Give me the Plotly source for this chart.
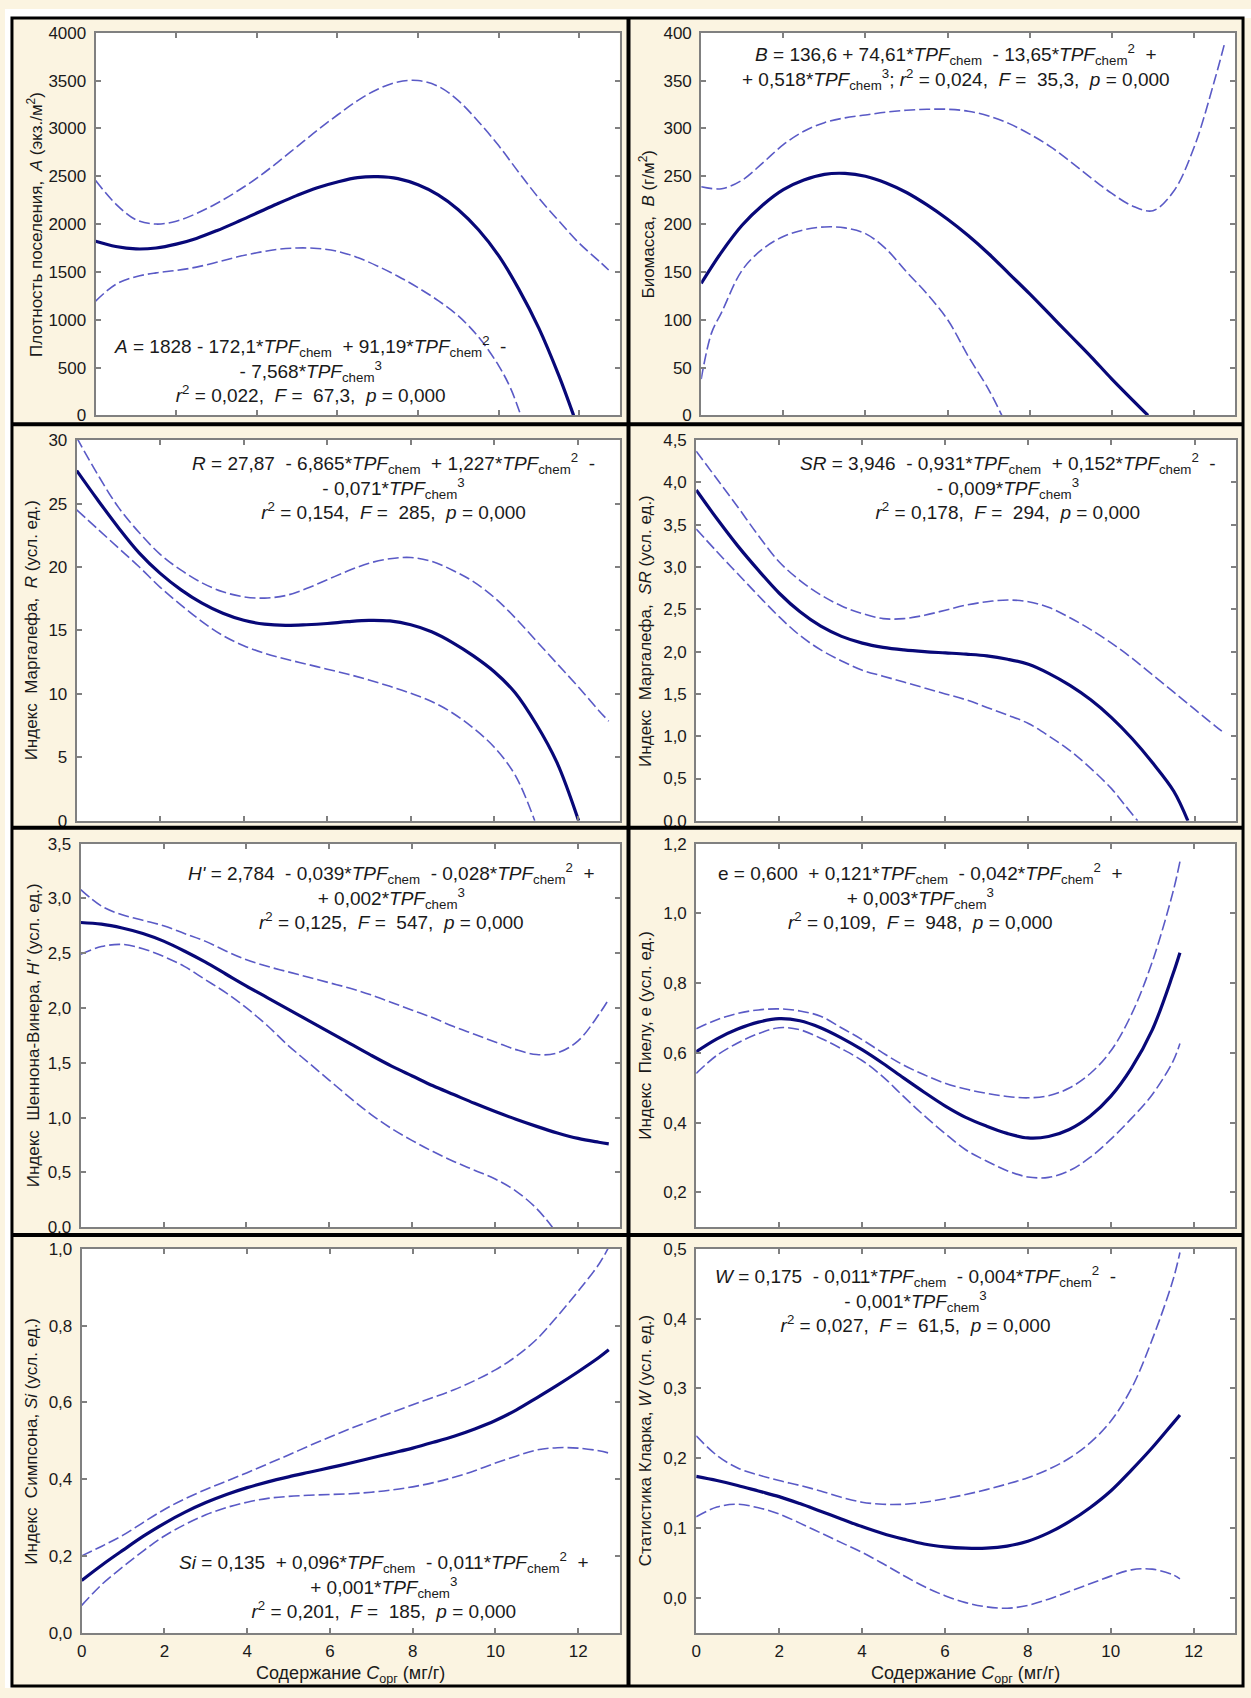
import plotly.graph_objects as go

FIG_W, FIG_H = 1251, 1698

X_TICKS = [0, 2, 4, 6, 8, 10, 12]
# Corg values (mg/g) at which the curves are sampled
HALF = [0, 0.5, 1, 1.5, 2, 2.5, 3, 3.5, 4, 4.5, 5, 5.5, 6, 6.5, 7, 7.5, 8, 8.5, 9, 9.5,
        10, 10.5, 11, 11.5, 12, 12.5]

# ---------------- Population density, A (ind./m2) ----------------
A_fit_x = HALF[:24] + [11.86]
A_fit_y = [1820, 1765, 1740, 1750, 1790, 1850, 1930, 2020, 2115, 2210, 2300, 2380, 2440,
           2485, 2495, 2475, 2410, 2305, 2150, 1940, 1670, 1320, 910, 410, 0]
A_hi_x = HALF + [12.73]
A_hi_y = [2455, 2210, 2045, 2000, 2030, 2110, 2215, 2340, 2480, 2640, 2810, 2980, 3140,
          3290, 3410, 3485, 3500, 3440, 3290, 3070, 2820, 2540, 2270, 2030, 1800, 1610, 1520]
A_lo_x = HALF[:21] + [10.3, 10.55]
A_lo_y = [1195, 1370, 1450, 1490, 1515, 1550, 1600, 1655, 1700, 1735, 1750, 1745, 1715,
          1650, 1560, 1455, 1335, 1200, 1040, 820, 520, 280, 0]
A_yticks = [0, 500, 1000, 1500, 2000, 2500, 3000, 3500, 4000]

# ---------------- Biomass, B (g/m2) ----------------
B_fit_x = HALF[:21] + [10.88]
B_fit_y = [138, 171, 199, 220, 236, 246, 252, 253, 250, 243, 233, 220, 205, 188, 169, 148,
           127, 105, 83, 61, 38, 0]
B_hi_x = HALF + [12.74]
B_hi_y = [239, 237, 246, 264, 283, 297, 306, 311, 314, 317, 319, 320, 320, 318, 313, 305,
          294, 281, 265, 248, 232, 219, 214, 234, 280, 350, 388]
B_lo_x = [0, 0.25] + HALF[1:15] + [7.32]
B_lo_y = [38, 86, 108, 152, 174, 187, 194, 197, 196, 190, 174, 150, 127, 100, 62, 27, 0]
B_yticks = [0, 50, 100, 150, 200, 250, 300, 350, 400]

# ---------------- Margalef index, R ----------------
R_fit_x = HALF[:24] + [12.02]
R_fit_y = [27.6, 25.3, 23.1, 21.1, 19.5, 18.2, 17.15, 16.35, 15.8, 15.5, 15.4, 15.45, 15.55,
           15.7, 15.8, 15.75, 15.45, 14.9, 14.05, 13.0, 11.75, 10.1, 7.65, 4.6, 0]
R_hi_x = HALF + [12.74]
R_hi_y = [30.2, 27.3, 24.7, 22.7, 21.0, 19.75, 18.75, 18.05, 17.65, 17.55, 17.75, 18.3, 19.0,
          19.7, 20.3, 20.65, 20.75, 20.45, 19.75, 18.85, 17.6, 16.0, 14.2, 12.4, 10.6, 8.7, 7.85]
R_lo_x = HALF[:22] + [10.97]
R_lo_y = [24.5, 23.0, 21.5, 20.0, 18.4, 17.0, 15.7, 14.6, 13.8, 13.2, 12.75, 12.35, 11.95,
          11.55, 11.1, 10.6, 10.05, 9.4, 8.5, 7.3, 5.8, 3.6, 0]
R_yticks = [0, 5, 10, 15, 20, 25, 30]

# ---------------- Margalef index, SR ----------------
SR_fit_x = HALF[:24] + [11.84]
SR_fit_y = [3.91, 3.57, 3.25, 2.96, 2.69, 2.47, 2.30, 2.18, 2.10, 2.05, 2.02, 2.00, 1.985,
            1.97, 1.95, 1.91, 1.85, 1.74, 1.60, 1.43, 1.22, 0.97, 0.68, 0.35, 0]
SR_hi_x = HALF + [12.71]
SR_hi_y = [4.37, 4.04, 3.71, 3.37, 3.06, 2.84, 2.67, 2.54, 2.45, 2.39, 2.39, 2.43, 2.49,
           2.55, 2.59, 2.61, 2.59, 2.52, 2.40, 2.26, 2.10, 1.92, 1.72, 1.52, 1.32, 1.12, 1.04]
SR_lo_x = HALF[:21] + [10.3, 10.63]
SR_lo_y = [3.45, 3.18, 2.92, 2.66, 2.41, 2.19, 2.02, 1.89, 1.78, 1.71, 1.64, 1.57, 1.50,
           1.43, 1.34, 1.25, 1.15, 1.0, 0.83, 0.62, 0.38, 0.2, 0]
SR_yticks = [0, 0.5, 1, 1.5, 2, 2.5, 3, 3.5, 4, 4.5]

# ---------------- Shannon-Wiener index, H' ----------------
H_fit_x = HALF + [12.74]
H_fit_y = [2.78, 2.765, 2.73, 2.68, 2.61, 2.52, 2.42, 2.31, 2.20, 2.095, 1.99, 1.885, 1.78,
           1.675, 1.57, 1.47, 1.38, 1.29, 1.21, 1.13, 1.055, 0.985, 0.92, 0.86, 0.81, 0.775, 0.76]
H_hi_x = HALF + [12.74]
H_hi_y = [3.08, 2.93, 2.85, 2.80, 2.75, 2.68, 2.61, 2.52, 2.44, 2.38, 2.33, 2.28, 2.23,
          2.18, 2.12, 2.05, 1.98, 1.91, 1.83, 1.76, 1.69, 1.62, 1.575, 1.59, 1.70, 1.94, 2.08]
H_lo_x = HALF[:23] + [11.38]
H_lo_y = [2.49, 2.56, 2.58, 2.54, 2.47, 2.38, 2.26, 2.14, 2.00, 1.84, 1.66, 1.50, 1.34,
          1.18, 1.03, 0.90, 0.79, 0.69, 0.60, 0.52, 0.44, 0.33, 0.17, 0]
H_yticks = [0, 0.5, 1, 1.5, 2, 2.5, 3, 3.5]

# ---------------- Pielou index, e ----------------
E_fit_x = HALF[:24] + [11.67]
E_fit_y = [0.603, 0.64, 0.668, 0.688, 0.698, 0.692, 0.672, 0.643, 0.609, 0.57, 0.528, 0.487,
           0.448, 0.415, 0.39, 0.369, 0.356, 0.36, 0.38, 0.418, 0.475, 0.556, 0.665, 0.825, 0.887]
E_hi_x = HALF[:24] + [11.67]
E_hi_y = [0.669, 0.695, 0.713, 0.723, 0.726, 0.720, 0.705, 0.672, 0.638, 0.600, 0.565, 0.537,
          0.513, 0.496, 0.484, 0.475, 0.471, 0.477, 0.499, 0.54, 0.605, 0.71, 0.86, 1.06, 1.148]
E_lo_x = HALF[:24] + [11.67]
E_lo_y = [0.541, 0.593, 0.628, 0.655, 0.672, 0.666, 0.642, 0.612, 0.578, 0.532, 0.475, 0.42,
          0.369, 0.322, 0.29, 0.262, 0.244, 0.243, 0.262, 0.3, 0.352, 0.412, 0.48, 0.575, 0.627]
E_yticks = [0.2, 0.4, 0.6, 0.8, 1.0, 1.2]

# ---------------- Simpson index, Si ----------------
SI_fit_x = HALF + [12.74]
SI_fit_y = [0.136, 0.177, 0.215, 0.252, 0.285, 0.314, 0.339, 0.360, 0.378, 0.393, 0.406,
            0.418, 0.430, 0.442, 0.455, 0.468, 0.481, 0.496, 0.512, 0.531, 0.553, 0.58,
            0.612, 0.645, 0.68, 0.717, 0.737]
SI_hi_x = HALF + [12.74]
SI_hi_y = [0.20, 0.226, 0.254, 0.288, 0.321, 0.349, 0.373, 0.395, 0.417, 0.44, 0.463, 0.487,
           0.51, 0.532, 0.553, 0.574, 0.594, 0.613, 0.633, 0.657, 0.685, 0.72, 0.765, 0.825,
           0.89, 0.96, 1.005]
SI_lo_x = HALF + [12.74]
SI_lo_y = [0.071, 0.127, 0.172, 0.214, 0.252, 0.282, 0.307, 0.326, 0.34, 0.35, 0.355, 0.358,
           0.36, 0.362, 0.366, 0.372, 0.38, 0.391, 0.405, 0.422, 0.442, 0.46, 0.476, 0.482,
           0.481, 0.474, 0.468]
SI_yticks = [0, 0.2, 0.4, 0.6, 0.8, 1.0]

# ---------------- Clarke statistic, W ----------------
W_fit_x = HALF[:24] + [11.67]
W_fit_y = [0.174, 0.168, 0.161, 0.153, 0.145, 0.135, 0.124, 0.113, 0.102, 0.092, 0.084, 0.077,
           0.073, 0.071, 0.071, 0.074, 0.081, 0.093, 0.109, 0.129, 0.153, 0.183, 0.215, 0.25, 0.262]
W_hi_x = HALF[:24] + [11.67]
W_hi_y = [0.232, 0.204, 0.186, 0.176, 0.168, 0.161, 0.153, 0.144, 0.137, 0.134, 0.134, 0.137,
          0.142, 0.148, 0.155, 0.163, 0.172, 0.184, 0.20, 0.222, 0.253, 0.30, 0.37, 0.455, 0.495]
W_lo_x = HALF[:24] + [11.67]
W_lo_y = [0.116, 0.13, 0.134, 0.129, 0.12, 0.107, 0.093, 0.079, 0.065, 0.049, 0.032, 0.016,
          0.003, -0.007, -0.013, -0.015, -0.011, -0.002, 0.009, 0.02, 0.031, 0.04, 0.041, 0.033,
          0.027]
W_yticks = [0, 0.1, 0.2, 0.3, 0.4, 0.5]

TPF = "<i>TPF</i><sub>chem</sub>"
SP = "&nbsp;"


def stats(r2, f):
    return ("<i>r</i><sup>2</sup> = " + r2 + "," + SP + " <i>F</i> =" + SP + " " + f + ","
            + SP + " <i>p</i> = 0,000")


# Each panel: curves, axis range, tick format, plot box in pixels (left, top, right, bottom),
# y-axis title with its x centre, regression equation with its centre.
panels = [
    dict(fit=(A_fit_x, A_fit_y), hi=(A_hi_x, A_hi_y), lo=(A_lo_x, A_lo_y),
         yrange=[0, 4000], yticks=A_yticks, fmt="d", box=(91, 24, 617, 411),
         ytitle="Плотность поселения," + SP + " <i>A</i> (экз./м<sup>2</sup>)", ytitle_x=30,
         eq=("<i>A</i> = 1828 - 172,1*" + TPF + SP + " + 91,19*" + TPF + "<sup>2</sup>" + SP + " -<br>"
             "- 7,568*" + TPF + "<sup>3</sup><br>" + stats("0,022", "67,3"), 306, 365)),
    dict(fit=(B_fit_x, B_fit_y), hi=(B_hi_x, B_hi_y), lo=(B_lo_x, B_lo_y),
         yrange=[0, 400], yticks=B_yticks, fmt="d", box=(699, 24, 1235, 411),
         ytitle="Биомасса," + SP + " <i>B</i> (г/м<sup>2</sup>)", ytitle_x=645,
         eq=("<i>B</i> = 136,6 + 74,61*" + TPF + SP + " - 13,65*" + TPF + "<sup>2</sup>" + SP + " +<br>"
             "+ 0,518*" + TPF + "<sup>3</sup>; " + stats("0,024", "35,3"), 955, 59)),
    dict(fit=(R_fit_x, R_fit_y), hi=(R_hi_x, R_hi_y), lo=(R_lo_x, R_lo_y),
         yrange=[0, 30], yticks=R_yticks, fmt="d", box=(72, 436, 617, 821),
         ytitle="Индекс" + SP + " Маргалефа," + SP + " <i>R</i> (усл. ед.)", ytitle_x=27,
         eq=("<i>R</i> = 27,87" + SP + " - 6,865*" + TPF + SP + " + 1,227*" + TPF + "<sup>2</sup>" + SP + " -<br>"
             "- 0,071*" + TPF + "<sup>3</sup><br>" + stats("0,154", "285"), 390, 483)),
    dict(fit=(SR_fit_x, SR_fit_y), hi=(SR_hi_x, SR_hi_y), lo=(SR_lo_x, SR_lo_y),
         yrange=[0, 4.5], yticks=SR_yticks, fmt=".1f", box=(694, 436, 1236, 821),
         ytitle="Индекс" + SP + " Маргалефа," + SP + " <i>SR</i> (усл. ед.)", ytitle_x=643,
         eq=("<i>SR</i> = 3,946" + SP + " - 0,931*" + TPF + SP + " + 0,152*" + TPF + "<sup>2</sup>" + SP + " -<br>"
             "- 0,009*" + TPF + "<sup>3</sup><br>" + stats("0,178", "294"), 1007, 483)),
    dict(fit=(H_fit_x, H_fit_y), hi=(H_hi_x, H_hi_y), lo=(H_lo_x, H_lo_y),
         yrange=[0, 3.5], yticks=H_yticks, fmt=".1f", box=(76, 844, 617, 1232),
         ytitle="Индекс" + SP + " Шеннона-Винера, <i>H'</i> (усл. ед.)", ytitle_x=28,
         eq=("<i>H'</i> = 2,784" + SP + " - 0,039*" + TPF + SP + " - 0,028*" + TPF + "<sup>2</sup>" + SP + " +<br>"
             "+ 0,002*" + TPF + "<sup>3</sup><br>" + stats("0,125", "547"), 388, 898)),
    dict(fit=(E_fit_x, E_fit_y), hi=(E_hi_x, E_hi_y), lo=(E_lo_x, E_lo_y),
         yrange=[0.1, 1.2], yticks=E_yticks, fmt=".1f", box=(694, 844, 1235, 1232),
         ytitle="Индекс" + SP + " Пиелу, e (усл. ед.)", ytitle_x=643,
         eq=("e = 0,600" + SP + " + 0,121*" + TPF + SP + " - 0,042*" + TPF + "<sup>2</sup>" + SP + " +<br>"
             "+ 0,003*" + TPF + "<sup>3</sup><br>" + stats("0,109", "948"), 919, 898)),
    dict(fit=(SI_fit_x, SI_fit_y), hi=(SI_hi_x, SI_hi_y), lo=(SI_lo_x, SI_lo_y),
         yrange=[0, 1.0], yticks=SI_yticks, fmt=".1f", box=(77, 1254, 617, 1642),
         ytitle="Индекс" + SP + " Симпсона, <i>Si</i> (усл. ед.)", ytitle_x=27,
         eq=("<i>Si</i> = 0,135" + SP + " + 0,096*" + TPF + SP + " - 0,011*" + TPF + "<sup>2</sup>" + SP + " +<br>"
             "+ 0,001*" + TPF + "<sup>3</sup><br>" + stats("0,201", "185"), 381, 1594)),
    dict(fit=(W_fit_x, W_fit_y), hi=(W_hi_x, W_hi_y), lo=(W_lo_x, W_lo_y),
         yrange=[-0.05, 0.5], yticks=W_yticks, fmt=".1f", box=(694, 1254, 1235, 1642),
         ytitle="Статистика Кларка, <i>W</i> (усл. ед.)", ytitle_x=643,
         eq=("<i>W</i> = 0,175" + SP + " - 0,011*" + TPF + SP + " - 0,004*" + TPF + "<sup>2</sup>" + SP + " -<br>"
             "- 0,001*" + TPF + "<sup>3</sup><br>" + stats("0,027", "61,5"), 914, 1305)),
]

FONT = "Liberation Sans, Arial, sans-serif"
TEXT_COLOR = "#1a1a1a"
FRAME = "#808080"
FIT_COLOR = "#080878"
CI_COLOR = "#5a5ac6"
CREAM = "#fbf4e1"


def fx(px):
    return px / FIG_W


def fy(py):
    return 1 - py / FIG_H


fig = go.Figure()
layout = dict(
    width=FIG_W, height=FIG_H,
    margin=dict(l=0, r=0, t=0, b=0),
    paper_bgcolor=CREAM,
    plot_bgcolor="white",
    showlegend=False,
    separators=", ",
    font=dict(family=FONT, color=TEXT_COLOR),
)

# white page margin outside the ruled cells
shapes = [
    dict(type="rect", xref="paper", yref="paper", x0=0, x1=fx(7), y0=0, y1=1,
         fillcolor="white", line=dict(width=0), layer="below"),
    dict(type="rect", xref="paper", yref="paper", x0=0, x1=1, y0=fy(9), y1=1,
         fillcolor="white", line=dict(width=0), layer="below"),
]

annotations = []
for i, p in enumerate(panels):
    n = "" if i == 0 else str(i + 1)
    xa, ya = "x" + n, "y" + n
    left, top, right, bottom = p["box"]
    bottom_row = i >= 6

    # white plotting area of the cell
    shapes.append(dict(type="rect", xref="paper", yref="paper",
                       x0=fx(left), x1=fx(right), y0=fy(bottom), y1=fy(top),
                       fillcolor="white", line=dict(width=0), layer="below"))

    for key, width, dash, color in (("hi", 1.6, "11px,4px", CI_COLOR),
                                     ("lo", 1.6, "11px,4px", CI_COLOR),
                                     ("fit", 3.2, "solid", FIT_COLOR)):
        xs, ys = p[key]
        fig.add_trace(go.Scatter(
            x=xs, y=ys, mode="lines", xaxis=xa, yaxis=ya,
            line=dict(color=color, width=width, dash=dash, shape="spline", smoothing=1.0),
            hoverinfo="skip",
        ))

    axis_common = dict(
        showline=True, linecolor=FRAME, linewidth=2, mirror="ticks",
        ticks="inside", ticklen=5, tickwidth=1.5, tickcolor=FRAME,
        showgrid=False, zeroline=False, fixedrange=True,
        tickfont=dict(family=FONT, size=17, color=TEXT_COLOR),
    )
    layout["xaxis" + n] = dict(
        axis_common, domain=[fx(left), fx(right)], range=[0, 13],
        tickvals=X_TICKS, tickformat="d", showticklabels=bottom_row,
        ticklabelstandoff=2, anchor=ya,
    )
    layout["yaxis" + n] = dict(
        axis_common, domain=[fy(bottom), fy(top)], range=p["yrange"],
        tickvals=p["yticks"], tickformat=p["fmt"], ticklabelstandoff=4,
        anchor=xa,
    )

    annotations.append(dict(
        text=p["ytitle"], textangle=-90, xref="paper", yref="paper",
        x=fx(p["ytitle_x"]), y=fy((top + bottom) / 2),
        xanchor="center", yanchor="middle", showarrow=False,
        font=dict(family=FONT, size=17, color=TEXT_COLOR),
    ))
    text, cx, cy = p["eq"]
    annotations.append(dict(
        text=text, xref="paper", yref="paper", x=fx(cx), y=fy(cy),
        xanchor="center", yanchor="middle", align="center", showarrow=False,
        font=dict(family=FONT, size=19, color=TEXT_COLOR),
    ))
    if bottom_row:
        annotations.append(dict(
            text="Содержание <i>C</i><sub>орг</sub> (мг/г)", xref="paper", yref="paper",
            x=fx((left + right) / 2), y=fy(1684), xanchor="center", yanchor="middle",
            showarrow=False, font=dict(family=FONT, size=18, color=TEXT_COLOR),
        ))

# black ruling of the cells
shapes += [
    dict(type="rect", xref="paper", yref="paper", x0=fx(7), x1=fx(1243), y0=fy(1696), y1=fy(9),
         fillcolor="rgba(0,0,0,0)", line=dict(color="black", width=3), layer="above"),
    dict(type="line", xref="paper", yref="paper", x0=fx(626), x1=fx(626), y0=fy(1696), y1=fy(9),
         line=dict(color="black", width=4)),
]
for yline in (420, 828, 1240):
    shapes.append(dict(type="line", xref="paper", yref="paper", x0=fx(7), x1=fx(1243),
                       y0=fy(yline), y1=fy(yline), line=dict(color="black", width=4)))

layout["annotations"] = annotations
layout["shapes"] = shapes
fig.update_layout(**layout)

fig.write_html("out.html", post_script="document.body.style.margin = '0';")
